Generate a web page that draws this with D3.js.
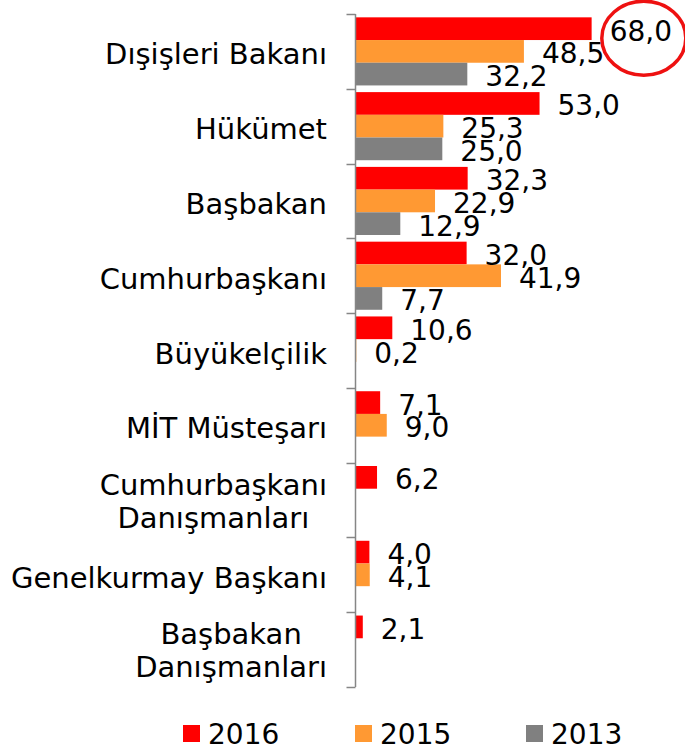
<!DOCTYPE html>
<html><head><meta charset="utf-8">
<script src="https://cdn.jsdelivr.net/npm/d3@7"></script>
<style>html,body{margin:0;padding:0;background:#fff}svg{display:block}</style>
</head><body>
<svg id="chart" width="685" height="750"></svg>
<script>
const categories = [
  ["Dışişleri Bakanı"],
  ["Hükümet"],
  ["Başbakan"],
  ["Cumhurbaşkanı"],
  ["Büyükelçilik"],
  ["MİT Müsteşarı"],
  ["Cumhurbaşkanı", "Danışmanları"],
  ["Genelkurmay Başkanı"],
  ["Başbakan", "Danışmanları"]
];
const seriesNames = ["2016", "2015", "2013"];
const seriesColors = ["#ff0000", "#ff9933", "#808080"];
const values2016 = [68.0, 53.0, 32.3, 32.0, 10.6, 7.1, 6.2, 4.0, 2.1];
const values2015 = [48.5, 25.3, 22.9, 41.9, 0.2, 9.0, null, 4.1, null];
const values2013 = [32.2, 25.0, 12.9, 7.7, null, null, null, null, null];
const allValues = [values2016, values2015, values2013];

const FONT = "DejaVu Sans, Verdana, sans-serif";
const svg = d3.select("#chart");
svg.append("rect").attr("width", 685).attr("height", 750).attr("fill", "#fff");

const catKeys = categories.map(c => c.join(" "));
const y = d3.scaleBand().domain(catKeys).range([14, 687]).padding(0);
const ys = d3.scaleBand().domain(seriesNames).range([0, y.bandwidth()]).paddingInner(0).paddingOuter(0.147);
const x = d3.scaleLinear().domain([0, 80]).range([355.5, 633.3]);

const fmt = v => d3.format(".1f")(v).replace(".", ",");

// bars
seriesNames.forEach((s, si) => {
  const data = catKeys.map((k, i) => ({k, v: allValues[si][i]})).filter(d => d.v != null);
  svg.append("g").selectAll("rect").data(data).join("rect")
    .attr("x", x(0))
    .attr("y", d => y(d.k) + ys(s))
    .attr("width", d => Math.max(0.8, x(d.v) - x(0)))
    .attr("height", ys.bandwidth())
    .attr("fill", seriesColors[si]);
});

// axis line and ticks
const axisG = svg.append("g");
axisG.append("line").attr("x1", x(0)).attr("x2", x(0))
  .attr("y1", y.range()[0]).attr("y2", y.range()[1])
  .attr("stroke", "#868686").attr("stroke-width", 1.5);
const bounds = catKeys.map(k => y(k)).concat([y.range()[1]]);
axisG.selectAll("line.tick").data(bounds).join("line").attr("class", "tick")
  .attr("x1", x(0) - 9).attr("x2", x(0))
  .attr("y1", d => Math.round(d) + 0.5).attr("y2", d => Math.round(d) + 0.5)
  .attr("stroke", "#868686").attr("stroke-width", 1.5);

// value labels
let maxLabel = null;
seriesNames.forEach((s, si) => {
  const data = catKeys.map((k, i) => ({k, v: allValues[si][i]})).filter(d => d.v != null);
  svg.append("g").selectAll("text").data(data).join("text")
    .attr("x", d => x(d.v) + 18)
    .attr("y", d => y(d.k) + ys(s) + ys.bandwidth() / 2 + 12)
    .attr("font-family", FONT).attr("font-size", 28).attr("fill", "#000")
    .text(d => fmt(d.v))
    .each(function(d) {
      if (si === 0 && d.v === d3.max(values2016)) maxLabel = this;
    });
});

// highlight ellipse around the maximum label
if (maxLabel) {
  const bb = maxLabel.getBBox();
  svg.append("ellipse")
    .attr("cx", bb.x + bb.width / 2 + 3)
    .attr("cy", bb.y + bb.height / 2 + 7)
    .attr("rx", 42).attr("ry", 37)
    .attr("fill", "none").attr("stroke", "#ee1111").attr("stroke-width", 3.5);
}

// category labels (multi-line centered, block right-aligned)
const labelRight = 327;
categories.forEach((lines, i) => {
  const g = svg.append("g");
  const cy = y(catKeys[i]) + y.bandwidth() / 2;
  const lh = 33;
  const base = lines.length > 1 ? 11 : 13;
  const texts = lines.map((ln, j) => g.append("text")
    .attr("font-family", FONT).attr("font-size", 29).attr("fill", "#000")
    .attr("text-anchor", "middle")
    .attr("y", cy + base + (j - (lines.length - 1) / 2) * lh)
    .text(ln));
  const maxW = d3.max(texts, t => t.node().getComputedTextLength());
  texts.forEach(t => t.attr("x", labelRight - maxW / 2));
});

// legend
const legendX = [183, 355, 526];
const lg = svg.append("g");
seriesNames.forEach((s, si) => {
  lg.append("rect").attr("x", legendX[si]).attr("y", 725).attr("width", 17).attr("height", 17)
    .attr("fill", seriesColors[si]);
  lg.append("text").attr("x", legendX[si] + 25).attr("y", 744)
    .attr("font-family", FONT).attr("font-size", 28).attr("fill", "#000").text(s);
});
</script>
</body></html>
